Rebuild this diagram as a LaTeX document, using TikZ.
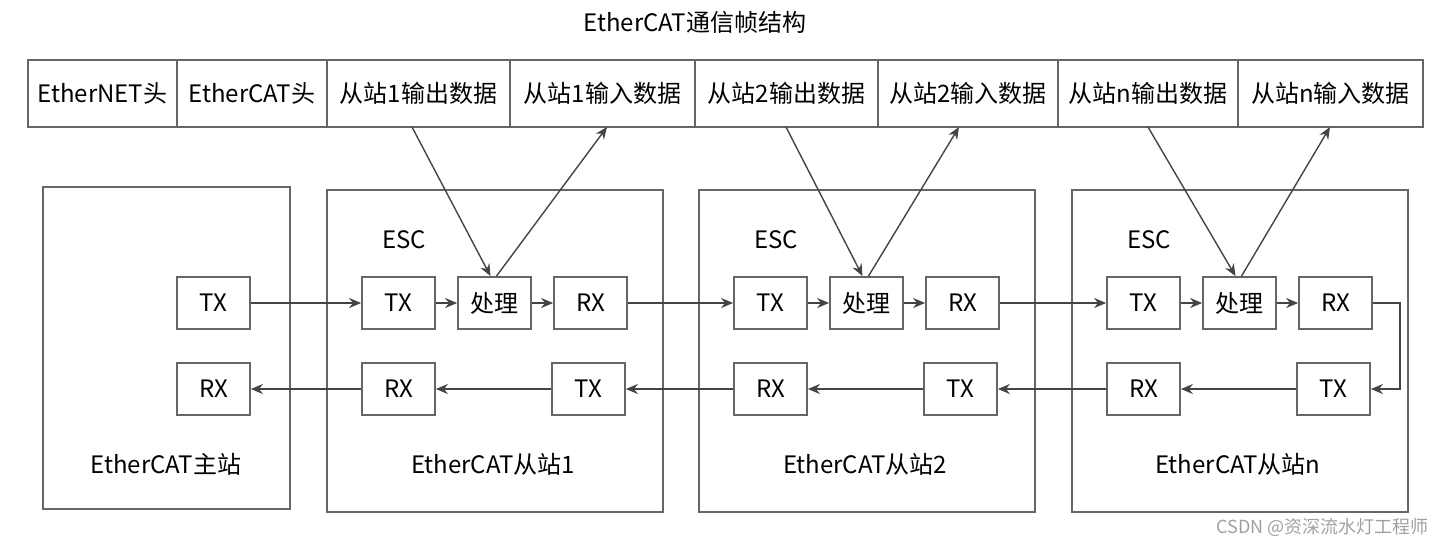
\documentclass[tikz,border=0pt]{standalone}
\usepackage{fontspec}
\newfontfamily\cjk{Noto Sans CJK SC}
\usepackage{tikz}
\usetikzlibrary{arrows.meta, positioning, calc}
\definecolor{cline}{HTML}{444444}
\definecolor{cbox}{HTML}{666666}
\definecolor{cmark}{HTML}{A0A0A0}

\begin{document}
\begin{tikzpicture}[x=0.5pt, y=-0.5pt,
    txt/.style={font=\cjk\fontsize{12}{14}\selectfont, text=black},
    cell/.style={txt, draw=cbox, line width=0.9pt, minimum height=33.5pt, inner sep=0pt},
    station/.style={draw=cbox, line width=0.9pt, minimum height=161pt, inner sep=0pt},
    port/.style={txt, draw=cbox, line width=0.9pt, minimum width=36.5pt, minimum height=26pt, inner sep=0pt},
    link/.style={cline, line width=0.7pt, -{Stealth[length=6pt, width=5pt]}}]
  \path[use as bounding box] (0,0) rectangle (1451,547);

  % Title and frame
  \node[txt] (title) at (695,22) {EtherCAT通信帧结构};
  \foreach \a/\b/\t [count=\k] in {28/177/EtherNET头, 177/327/EtherCAT头,
      327/510/从站1输出数据, 510/695/从站1输入数据, 695/878/从站2输出数据,
      878/1058/从站2输入数据, 1058/1238/从站n输出数据, 1238/1423/从站n输入数据}
    \node[cell, minimum width=(\b-\a)*0.5pt] (f\k) at ({(\a+\b)/2},93.5) {\t};

  % Master
  \node[station, minimum width=123.5pt] (master) at (166.5,348) {};
  \node[port] (mtx) at (213.5,303) {TX};
  \node[port] (mrx) at (213.5,389) {RX};
  \node[txt] (mlabel) at (166,464) {EtherCAT主站};

  % Slaves
  \foreach \x/\i/\sn/\xo/\xi in {327/1/1/412/607, 699/2/2/786/959, 1072/3/n/1148/1330}{
    \node[station, minimum width=168pt] (slave\i) at (\x+168,351) {};
    \node[txt] (esc\i) at (\x+77,240) {ESC};
    \node[port] (ptx\i) at (\x+71.5,303) {TX};
    \node[port] (pproc\i) at (\x+167.5,303) {处理};
    \node[port] (prx\i) at (\x+263.5,303) {RX};
    \node[port] (lrx\i) at (\x+71.5,389) {RX};
    \node[port] (ltx\i) at (\x+261.5,389) {TX};
    \node[txt] (slabel\i) at (\x+166,464) {EtherCAT从站\sn};
    \coordinate (out\i) at (\xo,127);
    \coordinate (in\i) at (\xi,127);
    \draw[link] (ptx\i) -- (pproc\i);
    \draw[link] (pproc\i) -- (prx\i);
    \draw[link] (ltx\i) -- (lrx\i);
    \draw[link] (out\i) -- ([xshift=-2]pproc\i.north);
    \draw[link] ([xshift=1]pproc\i.north) -- (in\i);
  }

  % Links between stations
  \draw[link] (mtx) -- (ptx1);
  \draw[link] (prx1) -- (ptx2);
  \draw[link] (prx2) -- (ptx3);
  \draw[link] (prx3.east) -- ++(27,0) |- (ltx3.east);
  \draw[link] (lrx3) -- (ltx2);
  \draw[link] (lrx2) -- (ltx1);
  \draw[link] (lrx1) -- (mrx);

  \node[font=\cjk\fontsize{9}{11}\selectfont, text=cmark, anchor=east] (mark) at (1436,527) {CSDN @资深流水灯工程师};
\end{tikzpicture}
\end{document}
